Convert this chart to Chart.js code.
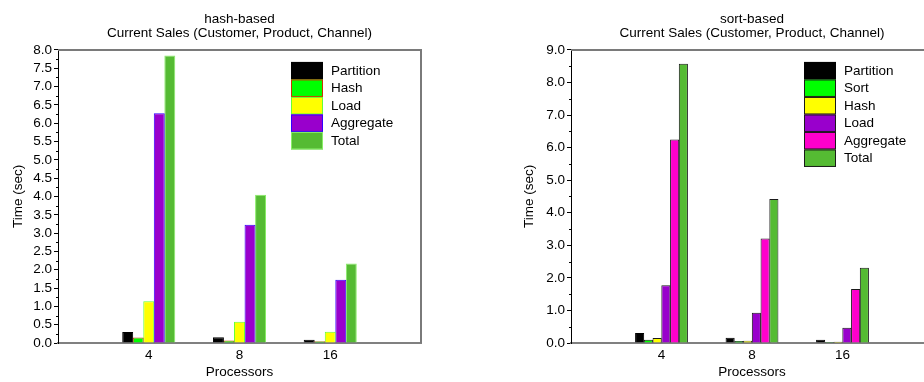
<!DOCTYPE html>
<html>
<head>
<meta charset="utf-8">
<script src="https://cdn.jsdelivr.net/npm/chart.js@4.4.0/dist/chart.umd.min.js"></script>
<style>
    html, body { margin: 0; padding: 0; background: #fff; }
    body { width: 924px; height: 382px; overflow: hidden; position: relative; }
    #hashWrap { position: absolute; left: 0; top: 0; width: 462px; height: 382px; }
    #sortWrap { position: absolute; left: 462px; top: 0; width: 512px; height: 382px; }
</style>
</head>
<body>
<div id="hashWrap"><canvas id="hashChart" width="462" height="382"></canvas></div>
<div id="sortWrap"><canvas id="sortChart" width="512" height="382"></canvas></div>
<script>
// processor counts on the x axis
const processors = ['4', '8', '16'];

// hash-based timings (sec)
const hashPartition = [0.30, 0.16, 0.09];
const hashHash = [0.15, 0.07, 0.05];
const hashLoad = [1.14, 0.58, 0.31];
const hashAggregate = [6.27, 3.23, 1.73];
const hashTotal = [7.85, 4.05, 2.17];

// sort-based timings (sec)
const sortPartition = [0.31, 0.16, 0.10];
const sortSort = [0.10, 0.06, 0.03];
const sortHash = [0.15, 0.07, 0.04];
const sortLoad = [1.77, 0.93, 0.47];
const sortAggregate = [6.25, 3.21, 1.66];
const sortTotal = [8.58, 4.42, 2.31];

const FONT = 'Liberation Sans, Arial, sans-serif';
const FS = 13.5;
Chart.defaults.font.family = FONT;
Chart.defaults.font.size = FS;
Chart.defaults.color = '#000';
Chart.defaults.animation = false;

// empty slots at both ends so the three groups sit at 1/4, 2/4, 3/4 of the axis
const xLabels = ['', ...processors, ''];
const pad = arr => [null, ...arr, null];

// frame, minor ticks and the boxed legend
const framePlugin = {
    id: 'frame',
    afterDraw(chart, args, opts) {
        const { ctx, chartArea: a } = chart;
        const y = chart.scales.y;
        ctx.save();
        // minor ticks
        ctx.strokeStyle = '#000';
        ctx.lineWidth = 1;
        for (let v = opts.minor; v < y.max; v += opts.major) {
            const py = Math.round(y.getPixelForValue(v)) + 0.5;
            ctx.beginPath();
            ctx.moveTo(a.left - 2, py);
            ctx.lineTo(a.left, py);
            ctx.stroke();
        }
        // top and right border
        ctx.strokeStyle = '#7a7a7a';
        ctx.lineWidth = 2;
        ctx.beginPath();
        ctx.moveTo(a.left, a.top);
        ctx.lineTo(a.right, a.top);
        ctx.lineTo(a.right, a.bottom);
        ctx.stroke();
        // legend
        const bx = a.left + opts.legendX;
        let by = a.top + 12;
        const rowH = 17.5;
        ctx.font = FS + 'px ' + FONT;
        ctx.textBaseline = 'middle';
        ctx.textAlign = 'left';
        chart.data.datasets.forEach(ds => {
            ctx.fillStyle = ds.backgroundColor;
            ctx.fillRect(bx, by, 32, rowH);
            ctx.strokeStyle = ds.borderColor;
            ctx.lineWidth = 1;
            ctx.strokeRect(bx + 0.5, by + 0.5, 31, rowH - 1);
            ctx.fillStyle = '#000';
            ctx.fillText(ds.label, bx + 40, by + rowH / 2 + 0.5);
            by += rowH;
        });
        ctx.restore();
    }
};

function makeChart(id, title, datasets, yMax, major, yWidth, titlePad, legendX) {
    return new Chart(document.getElementById(id), {
        type: 'bar',
        data: {
            labels: xLabels,
            datasets: datasets.map(d => ({
                label: d[0],
                data: pad(d[1]),
                backgroundColor: d[2],
                borderColor: d[3],
                borderWidth: 1,
                categoryPercentage: 0.58,
                barPercentage: 1.04
            }))
        },
        options: {
            responsive: false,
            layout: { padding: { left: 0, right: 41, top: 0, bottom: 0 } },
            plugins: {
                legend: { display: false },
                tooltip: { enabled: false },
                title: {
                    display: true,
                    text: title,
                    fullSize: false,
                    font: { size: FS, weight: 'normal', lineHeight: 1.05 },
                    color: '#000',
                    padding: { top: 12, bottom: 9.6 }
                },
                frame: { minor: major / 2, major: major, legendX: legendX }
            },
            scales: {
                x: {
                    offset: false,
                    grid: { display: false, drawTicks: false },
                    border: { color: '#808080', width: 2 },
                    ticks: { padding: 4, autoSkip: false, maxRotation: 0 },
                    title: { display: true, text: 'Processors', padding: { top: 0, bottom: 2 } },
                    afterFit: s => { s.height = 39; }
                },
                y: {
                    min: 0,
                    max: yMax,
                    ticks: {
                        stepSize: major,
                        padding: 2,
                        autoSkip: false,
                        font: { size: FS, lineHeight: 1 },
                        callback: v => Number(v).toFixed(1)
                    },
                    grid: { drawOnChartArea: false, tickLength: 4, color: '#000' },
                    border: { color: '#000', width: 1 },
                    title: { display: true, text: 'Time (sec)', padding: { top: titlePad, bottom: 0 } },
                    afterFit: s => { s.width = yWidth; }
                }
            }
        },
        plugins: [framePlugin]
    });
}

makeChart('hashChart', ['hash-based', 'Current Sales (Customer, Product, Channel)'], [
    ['Partition', hashPartition, '#000000', '#000000'],
    ['Hash', hashHash, '#00ff00', '#cc3300'],
    ['Load', hashLoad, '#ffff00', '#66ff33'],
    ['Aggregate', hashAggregate, '#9900cc', '#3300ff'],
    ['Total', hashTotal, '#55bb33', '#88ee66']
], 8, 0.5, 58, 10, 233);

makeChart('sortChart', ['sort-based', 'Current Sales (Customer, Product, Channel)'], [
    ['Partition', sortPartition, '#000000', '#000000'],
    ['Sort', sortSort, '#00ff00', '#1a1a1a'],
    ['Hash', sortHash, '#ffff00', '#1a1a1a'],
    ['Load', sortLoad, '#9900cc', '#1a1a1a'],
    ['Aggregate', sortAggregate, '#ff00cc', '#1a1a1a'],
    ['Total', sortTotal, '#55bb33', '#1a1a1a']
], 9, 1, 109, 59, 233);
</script>
</body>
</html>
